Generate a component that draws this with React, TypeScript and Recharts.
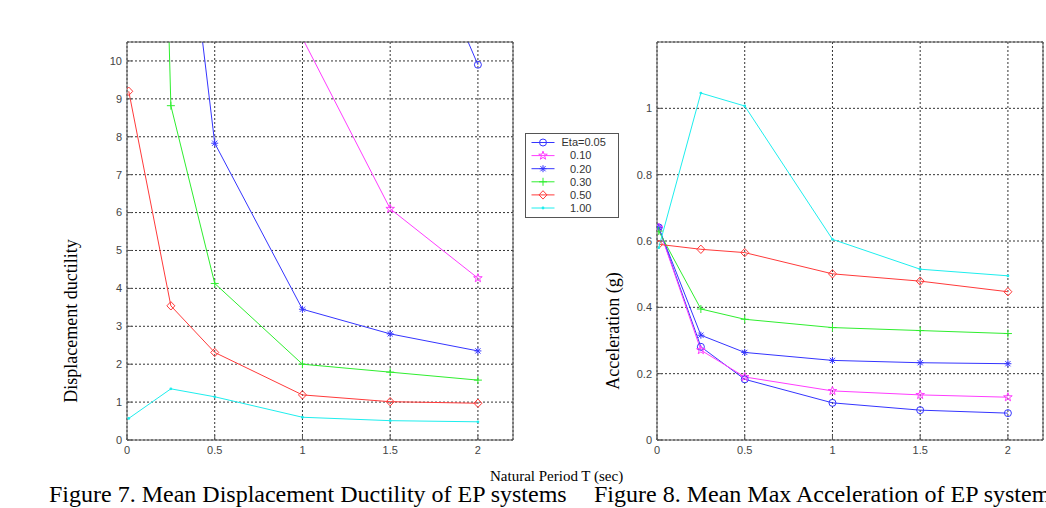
import React from "react";
import { LineChart, Line, XAxis, YAxis, CartesianGrid, Legend } from "recharts";

// natural period T (sec)
const periods = [0.01, 0.25, 0.5, 1, 1.5, 2];

const etaLabels = ["Eta=0.05", "0.10", "0.20", "0.30", "0.50", "1.00"];
const seriesKeys = ["e005", "e010", "e020", "e030", "e050", "e100"];
const seriesColors = ["#3535ff", "#ff3cff", "#3535ff", "#2fee2f", "#ff3a3a", "#1eeeee"];
const seriesMarkers = ["circle", "star", "asterisk", "plus", "diamond", "point"];

// Figure 7 - mean displacement ductility (points above 10.5 run off the axes)
const duct005 = [60, 45, 35, 25, 15.3, 9.9];
const duct010 = [50, 35, 20, 10.6, 6.1, 4.27];
const duct020 = [40, 17.5, 7.83, 3.45, 2.8, 2.35];
const duct030 = [50, 8.82, 4.13, 2.0, 1.79, 1.58];
const duct050 = [9.2, 3.54, 2.31, 1.19, 1.01, 0.97];
const duct100 = [0.57, 1.35, 1.14, 0.6, 0.51, 0.48];

// Figure 8 - mean max acceleration (g)
const acc005 = [0.641, 0.281, 0.183, 0.112, 0.09, 0.081];
const acc010 = [0.64, 0.271, 0.19, 0.148, 0.136, 0.129];
const acc020 = [0.64, 0.316, 0.264, 0.24, 0.233, 0.23];
const acc030 = [0.63, 0.395, 0.364, 0.339, 0.33, 0.321];
const acc050 = [0.59, 0.575, 0.565, 0.501, 0.479, 0.447];
const acc100 = [0.58, 1.046, 1.007, 0.605, 0.515, 0.495];

const xTicks = [0, 0.5, 1, 1.5, 2];
const ductTicks = [0, 1, 2, 3, 4, 5, 6, 7, 8, 9, 10];
const accTicks = [0, 0.2, 0.4, 0.6, 0.8, 1];

const buildRows = (cols: number[][]) =>
  periods.map((t, i) => {
    const row: Record<string, number> = { t };
    seriesKeys.forEach((k, s) => (row[k] = cols[s][i]));
    return row;
  });

const ductRows = buildRows([duct005, duct010, duct020, duct030, duct050, duct100]);
const accRows = buildRows([acc005, acc010, acc020, acc030, acc050, acc100]);

const tickStyle = { fill: "#444", fontSize: 11, fontFamily: "Liberation Sans, Arial, sans-serif" };

const Marker = ({ kind, cx, cy, color }: { kind: string; cx: number; cy: number; color: string }) => {
  if (cx == null || cy == null || isNaN(cx) || isNaN(cy)) return null;
  switch (kind) {
    case "circle":
      return <circle cx={cx} cy={cy} r={3.5} fill="none" stroke={color} strokeWidth={1} />;
    case "star": {
      const pts = Array.from({ length: 10 }, (_, i) => {
        const a = (-90 + i * 36) * (Math.PI / 180);
        const r = i % 2 === 0 ? 4.5 : 1.8;
        return `${cx + r * Math.cos(a)},${cy + r * Math.sin(a)}`;
      }).join(" ");
      return <polygon points={pts} fill="none" stroke={color} strokeWidth={1} />;
    }
    case "asterisk":
      return (
        <g stroke={color} strokeWidth={1}>
          <line x1={cx - 3.5} y1={cy} x2={cx + 3.5} y2={cy} />
          <line x1={cx} y1={cy - 3.5} x2={cx} y2={cy + 3.5} />
          <line x1={cx - 2.6} y1={cy - 2.6} x2={cx + 2.6} y2={cy + 2.6} />
          <line x1={cx - 2.6} y1={cy + 2.6} x2={cx + 2.6} y2={cy - 2.6} />
        </g>
      );
    case "plus":
      return (
        <g stroke={color} strokeWidth={1}>
          <line x1={cx - 4} y1={cy} x2={cx + 4} y2={cy} />
          <line x1={cx} y1={cy - 4} x2={cx} y2={cy + 4} />
        </g>
      );
    case "diamond":
      return (
        <polygon
          points={`${cx},${cy - 4.2} ${cx + 4},${cy} ${cx},${cy + 4.2} ${cx - 4},${cy}`}
          fill="none"
          stroke={color}
          strokeWidth={1}
        />
      );
    default:
      return <circle cx={cx} cy={cy} r={1.4} fill={color} />;
  }
};

const LegendBox = () => (
  <svg width={94} height={85} style={{ display: "block" }}>
    <rect x={0.5} y={0.5} width={93} height={84} fill="#fff" stroke="#555" />
    {etaLabels.map((lab, i) => {
      const y = 9.5 + i * 13.1;
      return (
        <g key={lab}>
          <line x1={6.5} y1={y} x2={29.5} y2={y} stroke={seriesColors[i]} strokeWidth={1} />
          <Marker kind={seriesMarkers[i]} cx={18} cy={y} color={seriesColors[i]} />
          <text x={i === 0 ? 36.5 : 45} y={y} dy="0.35em" fontSize={11} fill="#333" fontFamily="Liberation Sans, Arial, sans-serif">
            {lab}
          </text>
        </g>
      );
    })}
  </svg>
);

type PanelProps = {
  left: number;
  width: number;
  rightMargin: number;
  rows: Record<string, number>[];
  yMax: number;
  yTicks: number[];
  withLegend?: boolean;
};

const Panel = ({ left, width, rightMargin, rows, yMax, yTicks, withLegend }: PanelProps) => (
  <div style={{ position: "absolute", left, top: 0 }}>
    <LineChart width={width} height={470} data={rows} margin={{ top: 41, right: rightMargin, bottom: 0, left: 0 }}>
      <CartesianGrid stroke="#333" strokeDasharray="2 2" />
      <XAxis
        dataKey="t"
        type="number"
        domain={[0, 2.2]}
        ticks={xTicks}
        interval={0}
        height={30}
        tickSize={-5}
        tickMargin={11}
        stroke="#555"
        tick={tickStyle}
        allowDataOverflow
      />
      <XAxis
        xAxisId="top"
        orientation="top"
        dataKey="t"
        type="number"
        domain={[0, 2.2]}
        ticks={xTicks}
        interval={0}
        height={1}
        tickSize={-5}
        tick={false}
        stroke="#555"
        allowDataOverflow
      />
      <YAxis
        type="number"
        domain={[0, yMax]}
        ticks={yTicks}
        interval={0}
        width={127}
        tickSize={-5}
        tickMargin={10}
        stroke="#555"
        tick={tickStyle}
        allowDataOverflow
      />
      <YAxis
        yAxisId="right"
        orientation="right"
        type="number"
        domain={[0, yMax]}
        ticks={yTicks}
        interval={0}
        width={1}
        tickSize={-5}
        tick={false}
        stroke="#555"
        allowDataOverflow
      />
      {seriesKeys.map((k, i) => (
        <Line
          key={k}
          dataKey={k}
          name={etaLabels[i]}
          type="linear"
          stroke={seriesColors[i]}
          strokeWidth={1}
          isAnimationActive={false}
          activeDot={false}
          dot={(p: any) => (
            <Marker key={`${k}-${p.index}`} kind={seriesMarkers[i]} cx={p.cx} cy={p.cy} color={seriesColors[i]} />
          )}
        />
      ))}
      {withLegend && (
        <Legend
          layout="horizontal"
          verticalAlign="middle"
          align="center"
          content={() => <LegendBox />}
          wrapperStyle={{ left: 525, top: 133, width: 94, height: 85 }}
        />
      )}
    </LineChart>
  </div>
);

const serif = "Liberation Serif, Times New Roman, serif";

export default function App() {
  return (
    <div style={{ position: "absolute", left: 0, top: 0, width: 1046, height: 508, background: "#fff", overflow: "hidden" }}>
      <svg width={1046} height={508} style={{ position: "absolute", left: 0, top: 0 }}>
        <text transform="translate(77,321) rotate(-90)" textAnchor="middle" fontSize={18} fontFamily={serif} fill="#000">
          Displacement ductility
        </text>
        <text transform="translate(619,331) rotate(-90)" textAnchor="middle" fontSize={18} fontFamily={serif} fill="#000">
          Acceleration (g)
        </text>
        <text x={490} y={481} fontSize={15} fontFamily={serif} fill="#000">
          Natural Period T (sec)
        </text>
        <text x={49} y={502} fontSize={24} fontFamily={serif} fill="#000">
          Figure 7. Mean Displacement Ductility of EP systems
        </text>
        <text x={594} y={502} fontSize={24} fontFamily={serif} fill="#000">
          Figure 8. Mean Max Acceleration of EP systems
        </text>
      </svg>
      <Panel left={0} width={530} rightMargin={16} rows={ductRows} yMax={10.5} yTicks={ductTicks} withLegend />
      <Panel left={530} width={516} rightMargin={2} rows={accRows} yMax={1.2} yTicks={accTicks} />
    </div>
  );
}
